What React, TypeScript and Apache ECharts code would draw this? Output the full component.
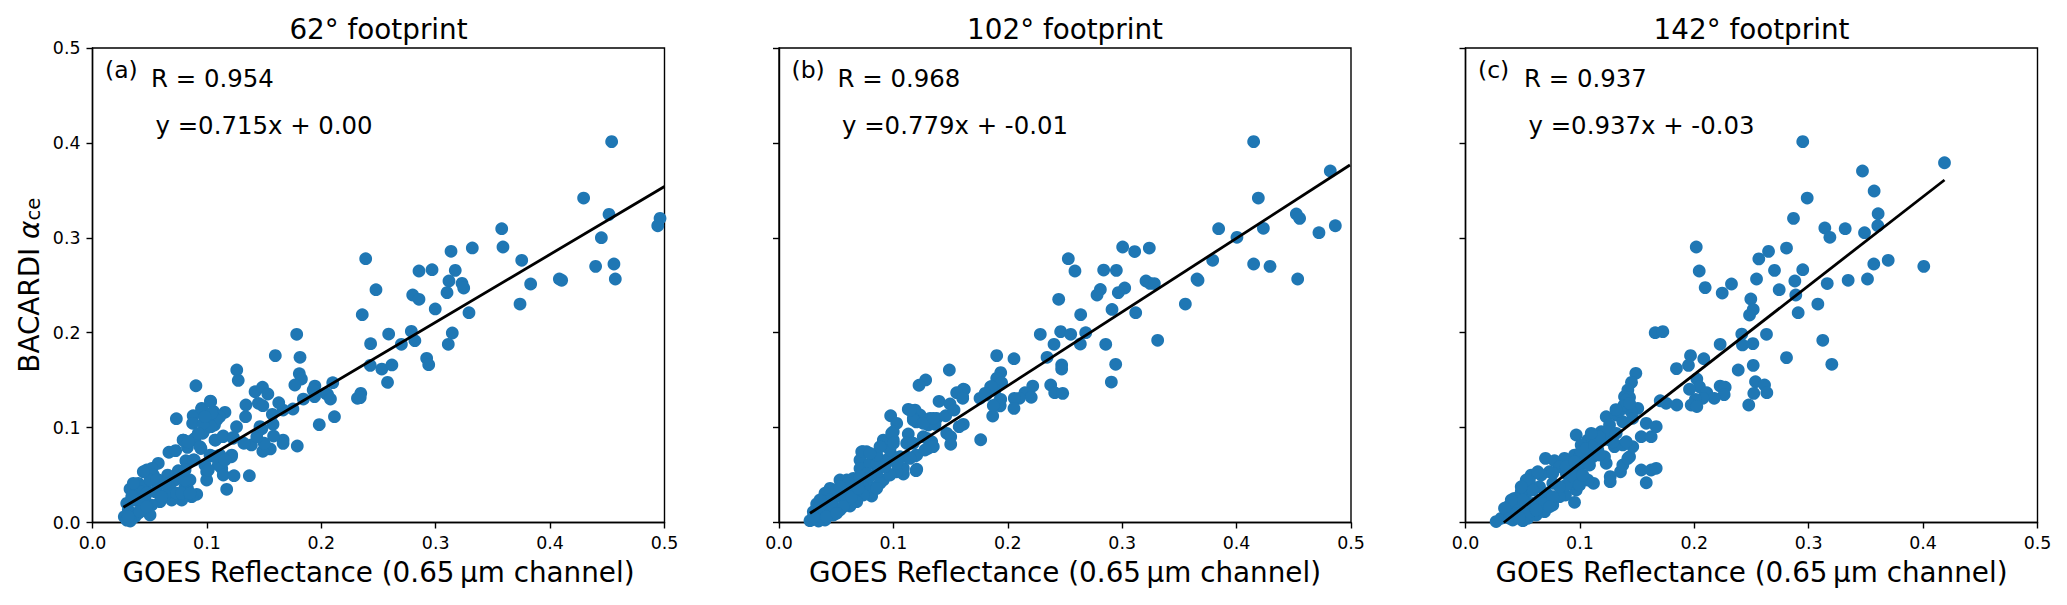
import React, { useEffect, useRef } from "react";
import * as echarts from "echarts";

const panelTitles = ["62° footprint", "102° footprint", "142° footprint"];
const panelLetters = ["(a)", "(b)", "(c)"];
const rValues = ["R = 0.954", "R = 0.968", "R = 0.937"];
const fitTexts = ["y =0.715x + 0.00", "y =0.779x + -0.01", "y =0.937x + -0.03"];
const xLabelText = "GOES Reflectance (0.65\u2009µm channel)";

const fitA = [[0.027, 0.016], [0.5, 0.354]];
const fitB = [[0.0271, 0.0097], [0.4991, 0.3767]];
const fitC = [[0.0335, 0], [0.4187, 0.3609]];

const pointsA = [
  [.4538,.4013],[.4293,.3419],[.4515,.3247],[.4448,.3001],[.4961,.3205],[.4941,.3127],[.4558,.2724],[.4398,.2699],[.457,.2566],
  [.3577,.3096],[.3588,.2903],[.3752,.2763],[.383,.2513],[.4081,.2566],[.4101,.2552],[.3737,.2302],[.332,.2893],[.3134,.2858],
  [.2854,.265],[.2968,.2664],[.3171,.2657],[.3116,.2545],[.323,.252],[.3245,.2471],[.3099,.2422],[.2799,.2397],[.2854,.2352],
  [.2996,.225],[.3291,.2211],[.2388,.278],[.2478,.2453],[.2358,.219],[.1785,.1983],[.2589,.1986],[.2787,.2015],[.3145,.1997],
  [.2431,.1884],[.2818,.1916],[.27,.1878],[.311,.1878],[.2428,.1656],[.2529,.1617],[.2617,.166],[.2579,.1477],[.2921,.173],[.2939,.1663],
  [.1598,.1758],[.1814,.1741],[.1808,.1568],[.1826,.1512],[.1769,.1449],[.21,.1473],[.1944,.1438],[.1929,.1396],[.2038,.1361],[.2055,.135],
  [.208,.1301],[.1941,.1326],[.1843,.1301],[.1982,.1031],[.2115,.1115],[.2345,.1361],[.2316,.1309],[.234,.1316],[.1752,.1196],[.1666,.1185],
  [.1628,.1262],[.1572,.114],[.1578,.1035],[.148,.0988],[.179,.0806],[.1666,.0869],[.1666,.0834],[.1583,.0911],[.1554,.0775],[.1489,.075],
  [.1501,.0835],[.1389,.0817],[.1323,.0835],[.1436,.0904],[.1259,.1009],[.1338,.1115],[.1341,.1238],[.1261,.1607],[.1274,.1498],[.1421,.1378],
  [.1486,.1425],[.1533,.1354],[.145,.1256],[.1489,.1231],[.0904,.1441],[.0733,.1094],[.1031,.128],[.0955,.1196],[.088,.1125],[.0875,.1045],
  [.1058,.1168],[.1158,.1161],[.1111,.1115],[.0993,.108],[.1066,.1027],[.0963,.094],[.1023,.1009],[.1075,.0869],[.1141,.0904],[.1229,.0887],
  [.0792,.0869],[.088,.0869],[.083,.0792],[.0948,.078],[.0668,.074],[.0727,.0757],[.0816,.0651],[.089,.0659],[.1037,.0701],[.1111,.0676],[.1214,.0693],[.113,.057],
  [.0954,.1203],[.1033,.1273],[.1085,.108],[.1012,.1045],[.1071,.0869],[.1143,.0912],[.1231,.0898],[.0794,.0869],[.0896,.0887],[.094,.0799],
  [.0969,.0957],[.1036,.101],[.1027,.0711],[.1114,.0711],[.1217,.0711],[.0823,.0641],[.0881,.0659],[.11,.0606],[.0983,.0606],[.0998,.0535],
  [.0998,.0448],[.1143,.05],[.1237,.0493],[.1371,.0493],[.1173,.035],[.0575,.0624],[.0474,.0553],[.052,.057],[.075,.0546],[.0657,.05],
  [.0532,.05],[.0852,.0448],[.0721,.0448],[.04,.0413],[.0328,.0353],[.0459,.038],[.0575,.0395],[.0677,.036],[.0808,.0371],[.0911,.0297],
  [.0867,.0272],[.078,.0237],[.0692,.0237],[.059,.0219],[.0517,.0184],[.0444,.0166],[.0503,.0079],[.04,.0097],[.0299,.0202],[.0313,.0132],
  [.0278,.0061],[.0371,.0061],[.0459,.0272],[.0371,.0237],[.0546,.0325],[.0634,.029],[.0736,.0308],[.0416,.0325],[.0503,.0448],[.1464,.101],
  [.03,.0025],[.033,.0015],[.041,.012],[.035,.028],[.0475,.031],[.0575,.045],[.083,.036],
  [.0357,.0413],[.0444,.0535],[.0561,.0448],[.0634,.0413],[.0809,.0448],[.0969,.1045],[.1042,.1151],[.0983,.1115],[.0925,.094],[.0837,.0851],
  [.1071,.0693],[.1158,.0659],[.043,.0237],[.0605,.0272],[.0313,.0061],[.0415,.0114],[.0474,.0166],[.0343,.0272],[.078,.0308],[.0852,.0308],
  [.0809,.0553],[.1012,.0553],
];

const pointsB = [
  [.4149,.4013],[.419,.3419],[.4819,.3704],[.4522,.3251],[.4551,.3205],[.4234,.31],[.4003,.3005],[.3843,.3096],[.472,.3054],[.4863,.3127],
  [.3791,.2763],[.4149,.2724],[.4292,.2699],[.4534,.2566],[.3654,.2566],[.3663,.2552],[.3552,.2302],[.3237,.2892],[.3004,.2903],[.3109,.2855],
  [.2838,.266],[.2949,.2657],[.2529,.278],[.2587,.265],[.3208,.2545],[.3243,.252],[.3281,.2518],[.3022,.2471],[.2966,.2422],[.2809,.2456],
  [.278,.2397],[.2445,.2352],[.2911,.2245],[.3118,.2211],[.2637,.219],[.331,.192],[.2284,.1983],[.2462,.2011],[.255,.1983],[.2681,.2],
  [.2404,.1878],[.2634,.1881],[.2856,.1878],[.2343,.1741],[.1903,.1758],[.2054,.1726],[.2471,.166],[.2471,.1617],[.2943,.1667],[.2905,.148],
  [.2375,.1449],[.241,.1368],[.248,.1361],[.2218,.1438],[.215,.1368],[.2205,.1319],[.2101,.1309],[.2057,.1309],[.2054,.1203],[.1938,.1579],
  [.1903,.1519],[.1946,.1473],[.185,.1431],[.1888,.1396],[.1809,.1344],[.1757,.1309],[.162,.1401],[.1605,.1326],[.1938,.1298],[.1888,.1238],[.1932,.1238],
  [.1489,.1607],[.1282,.1502],[.1224,.1446],[.1611,.1404],[.1553,.1368],[.1606,.1309],[.1399,.1277],[.113,.1193],[.1189,.1185],[.1233,.1133],
  [.0976,.1125],[.1029,.1045],[.1174,.1098],[.12,.106],[.132,.1098],[.1378,.1098],[.1306,.1027],[.1364,.1035],[.1457,.1125],[.1495,.1249],
  [.153,.1185],[.1611,.1035],[.1575,.101],[.1466,.094],[.1501,.0904],[.1501,.0824],[.1763,.0872],[.0999,.0957],[.0912,.0869],[.0903,.0806],
  [.0999,.0869],[.113,.0933],[.113,.0834],[.1261,.0904],[.1335,.0851],[.1305,.0782],[.1189,.0701],[.1117,.0693],[.1204,.0561],[.0723,.0746],
  [.0767,.0746],[.0708,.0659],[.0883,.0659],[.0999,.0693],[.1868,.1122],[.1932,.1291],[.1932,.1228],[.1873,.1232],[.1859,.1431],[.1801,.1361],
  [.0912,.0835],[.0985,.094],[.1116,.0835],[.1204,.0711],[.1087,.0511],[.1087,.0571],[.0737,.0746],[.0708,.0569],[.0795,.0622],[.0941,.0659],
  [.1029,.0535],[.0912,.0448],[.0533,.0448],[.0592,.0448],[.065,.0466],[.0446,.036],[.0402,.0308],[.0329,.0195],[.03,.0114],[.0271,.0019],
  [.081,.0279],[.0795,.0377],[.0737,.029],[.0679,.0219],[.0621,.0174],[.0533,.0132],[.0475,.0079],[.0402,.0026],[.0346,.0015],[.0387,.0202],
  [.0504,.0272],[.0621,.0342],[.0737,.0448],[.0854,.0518],[.0592,.0237],[.0358,.0061],[.0417,.0114],[.097,.0764],[.1058,.0693],[.0854,.0622],
  [.0767,.0517],[.0679,.0413],[.1198,.0546],
  [.0358,.0167],[.0446,.0237],[.0504,.0342],[.0562,.029],[.0475,.0167],[.0562,.0167],[.0635,.0272],[.0693,.036],[.0606,.0413],[.0533,.0377],
  [.0795,.0483],[.0708,.0483],[.0883,.0413],[.0854,.036],[.097,.05],[.0927,.0588],[.0854,.0711],[.0795,.0729],[.0883,.0799],[.1,.0835],
  [.1174,.0835],[.1291,.0887],[.1349,.0799],[.1276,.0764],[.1145,.0676],[.1029,.0624],[.1174,.108],[.1261,.1045],[.1349,.1098],[.1145,.1185],
  [.03,.0061],[.0417,.0061],[.0358,.0237],[.0504,.0097],
];

const pointsC = [
  [.2948,.4013],[.4187,.3791],[.347,.3704],[.3572,.3493],[.2987,.3419],[.3607,.3254],[.3604,.3127],[.2867,.3205],[.3141,.3103],[.3185,.3005],
  [.3319,.3096],[.3488,.3054],[.2017,.2903],[.2649,.2857],[.2806,.2892],[.2564,.2778],[.3695,.2763],[.3569,.2724],[.4006,.2699],[.2043,.265],
  [.2701,.2657],[.2948,.2664],[.2544,.2566],[.2879,.2545],[.3514,.2566],[.3345,.2552],[.3162,.2518],[.2325,.2513],[.2095,.2475],[.2244,.2418],
  [.2742,.2453],[.2887,.2397],[.2494,.2355],[.308,.2302],[.2515,.2245],[.2483,.2186],[.2908,.2211],[.2415,.1986],[.2631,.1983],[.3123,.192],
  [.1658,.2],[.1725,.2011],[.2226,.1878],[.2421,.1871],[.2512,.1885],[.2806,.1737],[.1967,.1758],[.2083,.1726],[.1949,.1656],[.1844,.1621],
  [.3202,.1667],[.2515,.1656],[.2384,.1607],[.1489,.1572],[.1451,.1477],[.1419,.1396],[.139,.1326],[.1434,.1319],[.2022,.1512],[.2045,.1431],
  [.1958,.1404],[.2109,.1368],[.2226,.1438],[.227,.1425],[.2261,.1347],[.2174,.1309],[.2074,.1309],[.201,.1298],[.1973,.1238],[.2022,.1222],
  [.2535,.1484],[.2614,.1449],[.252,.1361],[.2634,.1368],[.2476,.1238],[.1702,.1283],[.1754,.1256],[.1847,.1238],[.1506,.1203],[.1448,.1168],
  [.0968,.0922],[.0699,.0676],[.0778,.0651],[.0865,.0676],[.0953,.0711],[.0953,.0213],[.0874,.029],[.1119,.0413],[.1069,.0448],[.0968,.0342],
  [.0953,.0413],[.0982,.0518],[.088,.0395],[.1265,.0483],[.1265,.043],[.1355,.0535],[.1375,.0606],[.1434,.0693],[.1462,.0799],[.1375,.0817],
  [.1302,.0799],[.123,.0624],[.1215,.0693],[.1536,.0553],[.1623,.0553],[.1667,.0571],[.158,.0419],[.1536,.0904],[.1623,.0904],[.1667,.101],
  [.158,.1045],[.1405,.1291],[.123,.1115],[.1317,.1133],[.1375,.1062],[.1462,.1098],[.1259,.1027],[.1186,.0957],[.1128,.0922],[.1069,.0869],
  [.1011,.0817],[.1084,.0746],[.1157,.0764],[.1259,.0869],[.0822,.0588],[.0734,.0535],[.0662,.05],[.0574,.05],[.0559,.043],[.0487,.0325],
  [.0428,.0255],[.037,.0166],[.0312,.0044],[.0268,.001],[.0763,.0184],[.0822,.0272],[.0691,.0114],[.0618,.0079],[.0545,.0044],[.0501,.0019],
  [.0413,.0026],[.0472,.0132],[.0588,.0202],[.0705,.0308],[.0531,.0308],[.0647,.0377],[.0763,.0413],[.088,.0518],[.0443,.0202],[.0385,.0079],
  [.0938,.0588],[.1025,.0624],[.1113,.0693],
  [.0588,.0342],[.0647,.0237],[.0501,.0237],[.0443,.0097],[.0559,.0114],[.0676,.0202],[.0763,.0272],[.0822,.0377],[.0763,.0518],[.088,.0588],
  [.0938,.0483],[.0997,.0693],[.1069,.0693],[.1011,.0746],[.0953,.0641],[.1055,.0782],[.1128,.0817],[.12,.0869],[.123,.0957],[.1317,.094],
  [.1171,.0904],[.1099,.094],[.0632,.0535],[.0531,.0448],[.0487,.0377],[.04,.0237],[.0341,.015],[.0385,.0044],[.0472,.0044],[.0618,.0132],
  [.0734,.0166],[.0997,.0395],[.1025,.05],[.1084,.0606],[.1171,.0711],[.1288,.0851],[.1419,.0676],[.1405,.0851],
  [.1345,.1175],[.1385,.1235],[.1315,.119],[.1435,.1255],
];

const allPoints = [pointsA, pointsB, pointsC];
const allFits = [fitA, fitB, fitC];

const INK = "#000";
const BLUE = "#1f77b4";
const FONT = "DejaVu Sans";
const PLOT_W = 572;
const PLOT_H = 474.5;
const TOP = 48;
const LEFTS = [92.5, 779, 1465.5];

export default function App() {
  const ref = useRef<HTMLDivElement>(null);
  useEffect(() => {
    const chart = echarts.init(ref.current!, undefined, { renderer: "svg" });
    const texts: any[] = [];
    LEFTS.forEach((l, i) => {
      const ann = (text: string, x: number, y: number, size: number, align = "left") => ({
        type: "text",
        x: l + x,
        y,
        silent: true,
        style: { text, fontFamily: FONT, fontSize: size, fill: INK, align, verticalAlign: "middle" },
      });
      texts.push(ann(panelTitles[i], PLOT_W / 2, 29.5, 27.8, "center"));
      texts.push(ann(panelLetters[i], 12.5, 70, 23.5));
      texts.push(ann(rValues[i], 58.5, 78, 24.4));
      texts.push(ann(fitTexts[i], 63, 125, 24.4));
    });
    chart.setOption({
      animation: false,
      backgroundColor: "#fff",
      grid: LEFTS.map((l) => ({
        left: l,
        top: TOP,
        width: PLOT_W,
        height: PLOT_H,
        show: true,
        borderColor: INK,
        borderWidth: 1.4,
        backgroundColor: "transparent",
      })),
      xAxis: LEFTS.map((_, i) => ({
        type: "value",
        gridIndex: i,
        min: 0,
        max: 0.5,
        interval: 0.1,
        name: xLabelText,
        nameLocation: "middle",
        nameGap: 36,
        nameTextStyle: { fontFamily: FONT, fontSize: 27.8, color: INK },
        axisLine: { show: true, onZero: false, lineStyle: { color: INK, width: 1.4 } },
        axisTick: { show: true, length: 6, lineStyle: { color: INK, width: 1.4 } },
        axisLabel: {
          fontFamily: FONT,
          fontSize: 17.4,
          color: INK,
          margin: 12,
          formatter: (v: number) => v.toFixed(1),
        },
        splitLine: { show: false },
      })),
      yAxis: LEFTS.map((_, i) => ({
        type: "value",
        gridIndex: i,
        min: 0,
        max: 0.5,
        interval: 0.1,
        name: i === 0 ? "{t|BACARDI }{a|α}{s|ce}" : "",
        nameLocation: "middle",
        nameGap: 49,
        nameRotate: 90,
        nameTextStyle: {
          fontFamily: FONT,
          fontSize: 27.8,
          color: INK,
          rich: {
            t: { fontFamily: FONT, fontSize: 27.8, color: INK },
            a: { fontFamily: FONT, fontSize: 27.8, fontStyle: "italic", color: INK },
            s: { fontFamily: FONT, fontSize: 19.5, color: INK, verticalAlign: "bottom", padding: [8, 0, 0, 0] },
          },
        },
        axisLine: { show: true, onZero: false, lineStyle: { color: INK, width: 1.4 } },
        axisTick: { show: true, length: 6, lineStyle: { color: INK, width: 1.4 } },
        axisLabel: {
          show: i === 0,
          fontFamily: FONT,
          fontSize: 17.4,
          color: INK,
          margin: 12,
          formatter: (v: number) => v.toFixed(1),
        },
        splitLine: { show: false },
      })),
      series: LEFTS.flatMap((_, i) => [
        {
          type: "scatter",
          xAxisIndex: i,
          yAxisIndex: i,
          data: allPoints[i],
          symbol: "circle",
          symbolSize: 12.8,
          itemStyle: { color: BLUE, opacity: 1 },
          clip: true,
          z: 2,
        },
        {
          type: "line",
          xAxisIndex: i,
          yAxisIndex: i,
          data: allFits[i],
          symbol: "none",
          lineStyle: { color: INK, width: 2.8 },
          clip: true,
          z: 3,
        },
      ]),
      graphic: texts,
    });
    return () => chart.dispose();
  }, []);
  return <div ref={ref} style={{ position: "absolute", left: 0, top: 0, width: 2067, height: 605 }} />;
}
